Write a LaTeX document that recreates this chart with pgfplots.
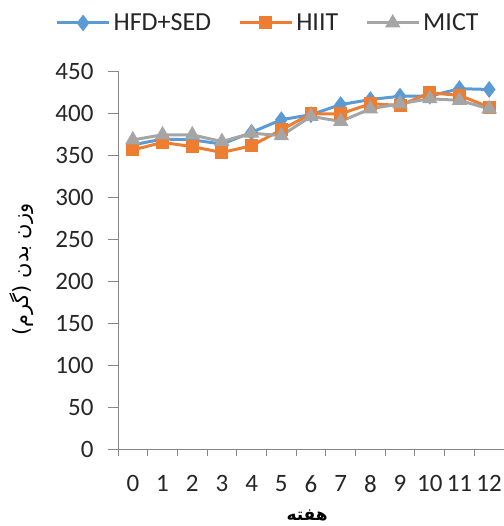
\documentclass[border=0pt]{standalone}
\usepackage{fontspec}
\setmainfont{Carlito}
\newfontfamily\arabicfont[Script=Arabic]{DejaVu Sans}
\TeXXeTstate=1
\usepackage{pgfplots}
\pgfplotsset{compat=1.18}
\definecolor{cblue}{HTML}{5B9BD5}
\definecolor{corange}{HTML}{ED7D31}
\definecolor{cgray}{HTML}{A5A5A5}
\definecolor{caxis}{HTML}{868686}
\definecolor{ctext}{HTML}{262626}
\begin{document}
\begin{tikzpicture}
\path[use as bounding box] (0,0) rectangle (504bp,526bp);
\begin{axis}[
  at={(118bp,77bp)}, anchor=south west,
  scale only axis, width=386bp, height=378bp,
  xmin=-0.5, xmax=12.5, ymin=0, ymax=450,
  axis lines*=left,
  axis line style={caxis, line width=1pt},
  every tick/.style={caxis, line width=1pt},
  tick align=outside,
  xtick={0,...,12},
  major x tick style={draw=none},
  minor xtick={-0.5,0.5,...,12.5},
  minor tick length=7bp,
  ytick={0,50,...,450},
  major tick length=10bp,
  /pgf/number format/assume math mode=true,
  tick label style={font=\fontsize{25bp}{30bp}\selectfont, text=ctext},
  xticklabel style={yshift=-13bp},
  yticklabel style={xshift=-11bp},
  xlabel={\arabicfont\bfseries\beginR هفته\endR},
  xlabel style={at={(rel axis cs:0.49,0)}, anchor=center, yshift=-66bp, font=\fontsize{17bp}{20bp}\selectfont},
  ylabel={\arabicfont\beginR وزن بدن (گرم)\endR},
  ylabel style={at={(rel axis cs:-0.2487,0.474)}, anchor=center, font=\fontsize{21bp}{24bp}\selectfont},
  legend columns=3,
  legend style={at={(rel axis cs:-0.17,1.127)}, anchor=west, draw=none, fill=none,
    font=\fontsize{26bp}{30bp}\selectfont, text=ctext,
    nodes={inner xsep=3bp, inner ysep=0pt},
    /tikz/every even column/.append style={column sep=24bp}},
  legend image code/.code={\draw[mark repeat=2,mark phase=2,#1] plot coordinates {(0bp,0bp) (26bp,0bp) (52bp,0bp)};},
]
\addplot[cblue, line width=3pt, mark=diamond*, mark size=6bp, mark options={solid}] coordinates {
(0,362)(1,369)(2,368)(3,363)(4,377)(5,392)(6,398)(7,410)(8,416)(9,420)(10,420)(11,429)(12,428)};
\addlegendentry{HFD+SED}
\addplot[corange, line width=3pt, mark=square*, mark size=5bp, mark options={solid}] coordinates {
(0,356)(1,365)(2,360)(3,353)(4,361)(5,380)(6,399)(7,399)(8,411)(9,409)(10,424)(11,421)(12,407)};
\addlegendentry{HIIT}
\addplot[cgray, line width=3pt, mark=triangle*, mark size=6bp, mark options={solid}] coordinates {
(0,368)(1,374)(2,374)(3,366)(4,376)(5,373)(6,396)(7,390)(8,405)(9,411)(10,417)(11,415)(12,405)};
\addlegendentry{MICT}
\end{axis}
\end{tikzpicture}
\end{document}
